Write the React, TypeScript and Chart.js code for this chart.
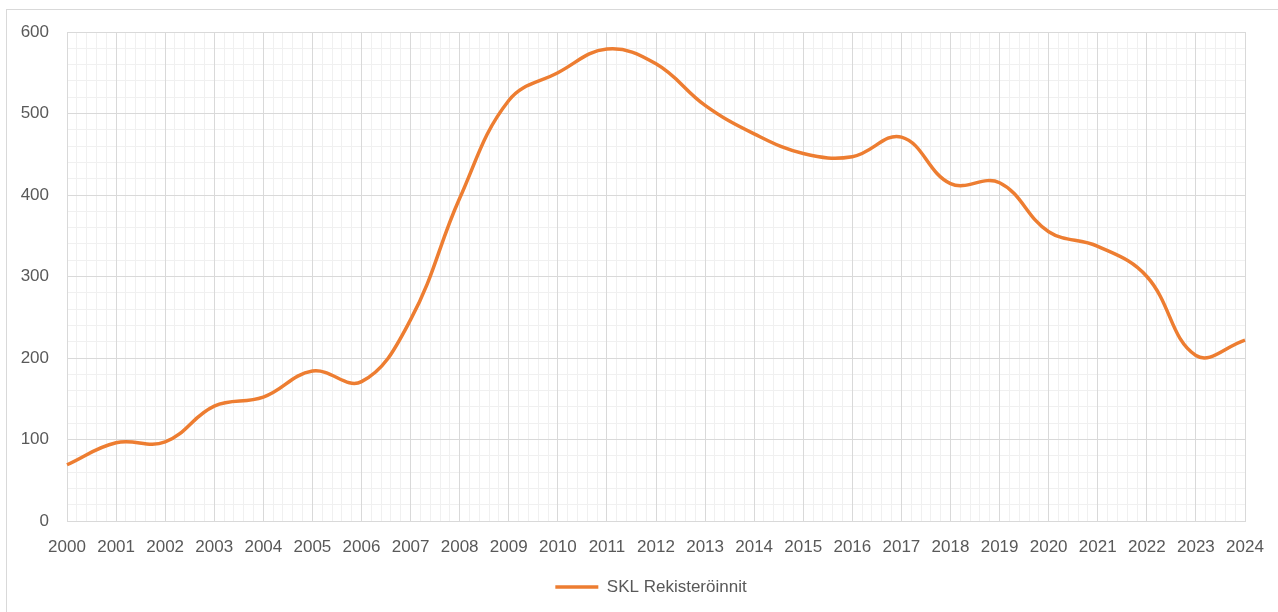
import React, { useEffect, useRef } from 'react';
import { Chart, registerables } from 'chart.js';

Chart.register(...registerables);

const years = [
  '2000', '2001', '2002', '2003', '2004', '2005', '2006', '2007', '2008',
  '2009', '2010', '2011', '2012', '2013', '2014', '2015', '2016', '2017',
  '2018', '2019', '2020', '2021', '2022', '2023', '2024',
];
const registrations = [
  69, 96, 97, 141, 152, 184, 171, 247, 396, 516, 550, 579, 561, 510, 475,
  451, 447, 471, 414, 415, 355, 337, 300, 203, 222,
];
const seriesLabel = 'SKL Rekisteröinnit';

const yMin = 0;
const yMax = 600;
const yMajorStep = 100;
const yMinorStep = 20;
const xMinorStep = 0.2;

const FONT = "'Liberation Sans', Arial, sans-serif";
const TEXT = '#595959';
const MAJOR_GRID = '#d9d9d9';
const MINOR_GRID = '#f0f0f0';
const ORANGE = '#ED7D31';

const App = () => {
  const canvasRef = useRef<HTMLCanvasElement>(null);
  const chartRef = useRef<Chart | null>(null);

  useEffect(() => {
    if (!canvasRef.current) return;
    const ctx = canvasRef.current.getContext('2d');
    if (!ctx) return;

    if (chartRef.current) chartRef.current.destroy();

    chartRef.current = new Chart(ctx, {
      type: 'line',
      data: {
        labels: years,
        datasets: [{
          label: seriesLabel,
          data: registrations,
          borderColor: ORANGE,
          backgroundColor: ORANGE,
          borderWidth: 3.5,
          pointRadius: 0,
          pointHoverRadius: 0,
          tension: 0.4,
          fill: false,
          xAxisID: 'x',
          yAxisID: 'y',
        }],
      },
      options: {
        animation: false,
        responsive: true,
        maintainAspectRatio: false,
        layout: { padding: { top: 32, left: 0, right: 0, bottom: 6.5 } },
        plugins: {
          tooltip: { enabled: false },
          legend: {
            display: true,
            position: 'bottom',
            labels: {
              usePointStyle: true,
              pointStyle: 'line',
              pointStyleWidth: 43,
              padding: 10,
              color: TEXT,
              font: { family: FONT, size: 17 },
            },
          },
        },
        scales: {
          x: {
            type: 'category',
            position: 'bottom',
            offset: false,
            grid: { color: MAJOR_GRID, drawTicks: false, z: 0 },
            border: { display: true, color: MAJOR_GRID },
            ticks: {
              color: TEXT,
              font: { family: FONT, size: 17 },
              padding: 16,
              maxRotation: 0,
              autoSkip: false,
            },
            afterFit: (scale: any) => { scale.height = 47.5; },
          },
          xMinor: {
            type: 'linear',
            position: 'bottom',
            min: 0,
            max: years.length - 1,
            grid: { color: MINOR_GRID, drawTicks: false, z: -1 },
            border: { display: false },
            ticks: { display: false, stepSize: xMinorStep, maxTicksLimit: 500 },
            afterFit: (scale: any) => { scale.height = 0; },
          },
          y: {
            type: 'linear',
            position: 'left',
            min: yMin,
            max: yMax,
            grid: { color: MAJOR_GRID, drawTicks: false, z: 0 },
            border: { display: true, color: MAJOR_GRID },
            ticks: {
              stepSize: yMajorStep,
              color: TEXT,
              font: { family: FONT, size: 17 },
              padding: 18,
            },
            afterFit: (scale: any) => { scale.width = 67; },
          },
          yMinor: {
            type: 'linear',
            position: 'right',
            min: yMin,
            max: yMax,
            grid: { color: MINOR_GRID, drawTicks: false, z: -1 },
            border: { display: false },
            ticks: { display: false, stepSize: yMinorStep, maxTicksLimit: 500 },
            afterFit: (scale: any) => { scale.width = 57; },
          },
        },
      },
    });

    return () => {
      if (chartRef.current) {
        chartRef.current.destroy();
        chartRef.current = null;
      }
    };
  }, []);

  return (
    <div style={{ position: 'fixed', left: 0, top: 0, width: 1278, height: 612, overflow: 'hidden', background: '#fff' }}>
      <div style={{ position: 'absolute', left: 6, top: 9, width: 1300, height: 700, border: '1px solid #d9d9d9' }} />
      <div style={{ position: 'absolute', left: 0, top: 0, width: 1302, height: 612 }}>
        <canvas ref={canvasRef} />
      </div>
    </div>
  );
};

export default App;
